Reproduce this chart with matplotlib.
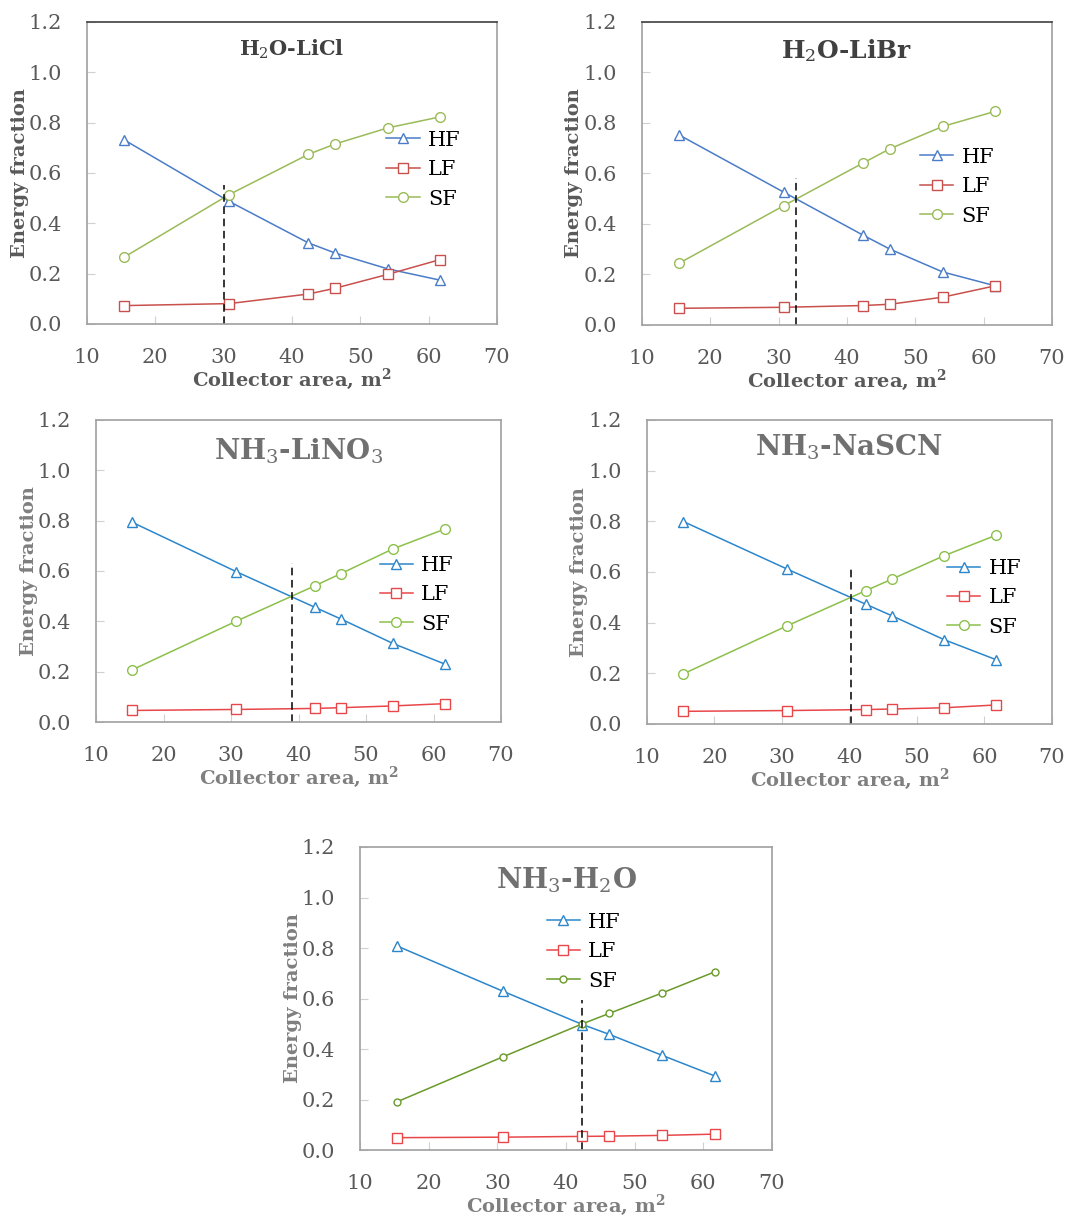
import matplotlib.pyplot as plt

plt.rcParams['font.family'] = ['DejaVu Serif']
plt.rcParams['mathtext.fontset'] = 'dejavuserif'

# collector area (same for every pair)
area = [15.4, 30.8, 42.4, 46.3, 54.0, 61.7]

titles = [r'H$_2$O-LiCl', r'H$_2$O-LiBr', r'NH$_3$-LiNO$_3$',
          r'NH$_3$-NaSCN', r'NH$_3$-H$_2$O']

hf_licl = [0.732, 0.487, 0.322, 0.282, 0.219, 0.174]
lf_licl = [0.073, 0.081, 0.119, 0.142, 0.197, 0.256]
sf_licl = [0.265, 0.514, 0.674, 0.715, 0.779, 0.823]

hf_libr = [0.753, 0.525, 0.355, 0.300, 0.210, 0.155]
lf_libr = [0.066, 0.070, 0.077, 0.082, 0.110, 0.155]
sf_libr = [0.244, 0.473, 0.642, 0.698, 0.786, 0.846]

hf_lino3 = [0.793, 0.597, 0.456, 0.409, 0.312, 0.230]
lf_lino3 = [0.046, 0.050, 0.054, 0.057, 0.064, 0.073]
sf_lino3 = [0.208, 0.401, 0.541, 0.590, 0.688, 0.767]

hf_nascn = [0.799, 0.611, 0.473, 0.427, 0.333, 0.254]
lf_nascn = [0.050, 0.053, 0.057, 0.059, 0.064, 0.075]
sf_nascn = [0.198, 0.388, 0.526, 0.572, 0.664, 0.745]

hf_h2o = [0.808, 0.629, 0.497, 0.458, 0.375, 0.293]
lf_h2o = [0.049, 0.051, 0.054, 0.055, 0.058, 0.063]
sf_h2o = [0.191, 0.369, 0.500, 0.541, 0.622, 0.706]

# dashed marker line (x, top)
cross_x = [30.0, 32.5, 39.0, 40.2, 42.4]
cross_top = [0.554, 0.581, 0.631, 0.624, 0.593]

hf_all = [hf_licl, hf_libr, hf_lino3, hf_nascn, hf_h2o]
lf_all = [lf_licl, lf_libr, lf_lino3, lf_nascn, lf_h2o]
sf_all = [sf_licl, sf_libr, sf_lino3, sf_nascn, sf_h2o]

# axes boxes in figure fraction
boxes = [
    [0.0799, 0.734, 0.3765, 0.248],
    [0.5895, 0.7332, 0.3765, 0.2488],
    [0.0882, 0.4072, 0.3719, 0.248],
    [0.5941, 0.4056, 0.3719, 0.2496],
    [0.3306, 0.0558, 0.3783, 0.2488],
]
title_y = [0.91, 0.905, 0.895, 0.91, 0.89]
title_size = [15, 18, 20, 20, 20]
title_col = ['#404040', '#404040', '#707070', '#707070', '#707070']
lab_col = ['#595959', '#595959', '#7f7f7f', '#7f7f7f', '#7f7f7f']
hf_col = ['#4a7cc8', '#4a7cc8', '#2c86cc', '#2c86cc', '#2c86cc']
lf_col = ['#c8504d', '#c8504d', '#e8474a', '#e8474a', '#e8474a']
sf_col = ['#9bbb59', '#9bbb59', '#8cc04a', '#8cc04a', '#6a9a2a']
sf_ms = [7, 7, 7, 7, 5]
leg_anchor = [(0.73, 0.64), (0.678, 0.585), (0.70, 0.55), (0.741, 0.543), (0.453, 0.783)]

fig = plt.figure(figsize=(10.89, 12.18), dpi=100)

for i in range(5):
    ax = fig.add_axes(boxes[i])
    ax.plot(area, hf_all[i], color=hf_col[i], lw=1.1, marker='^', ms=7,
            mfc='white', mec=hf_col[i], label='HF')
    ax.plot(area, lf_all[i], color=lf_col[i], lw=1.1, marker='s', ms=7,
            mfc='white', mec=lf_col[i], label='LF')
    ax.plot(area, sf_all[i], color=sf_col[i], lw=1.1, marker='o', ms=sf_ms[i],
            mfc='white', mec=sf_col[i], label='SF')
    ax.plot([cross_x[i], cross_x[i]], [0, cross_top[i]], color='black',
            lw=1.1, ls=(0, (5, 3)))
    ax.set_xlim(10, 70)
    ax.set_ylim(0, 1.2)
    ax.set_xticks([10, 20, 30, 40, 50, 60, 70])
    ax.set_yticks([0.0, 0.2, 0.4, 0.6, 0.8, 1.0, 1.2])
    ax.set_yticklabels(['%.1f' % v for v in ax.get_yticks()])
    ax.tick_params(direction='in', length=6, color='#d0d0d0', labelsize=15,
                   labelcolor='#595959')
    ax.tick_params(axis='x', pad=17)
    ax.tick_params(axis='y', pad=18)
    for s in ax.spines.values():
        s.set_color('#a0a0a0')
        s.set_linewidth(1.2)
    ax.spines['top'].set_color('#404040' if i < 2 else '#a0a0a0')
    ax.set_xlabel(r'Collector area, m$^\mathbf{2}$', fontsize=14,
                  fontweight='bold', color=lab_col[i], labelpad=0)
    ax.set_ylabel('Energy fraction', fontsize=14, fontweight='bold',
                  color=lab_col[i], labelpad=0)
    ax.text(0.5, title_y[i], titles[i], transform=ax.transAxes, ha='center',
            va='center', fontsize=title_size[i], fontweight='bold',
            color=title_col[i])
    ax.legend(loc='upper left', bbox_to_anchor=leg_anchor[i], frameon=False,
              fontsize=15, handlelength=1.6, handletextpad=0.4,
              labelspacing=0.5, borderpad=0, borderaxespad=0)

fig.savefig('out.png', dpi=100)
